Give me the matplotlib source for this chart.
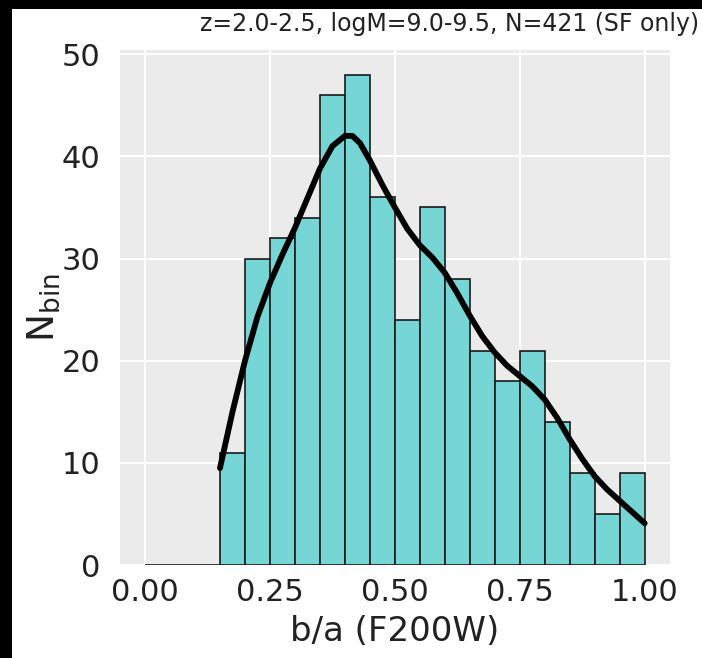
import matplotlib

matplotlib.use("Agg")
import matplotlib.pyplot as plt
from matplotlib.patches import Rectangle

# histogram of b/a, bin width 0.05 from 0 to 1
bin_left = [0.00, 0.05, 0.10, 0.15, 0.20, 0.25, 0.30, 0.35, 0.40, 0.45,
            0.50, 0.55, 0.60, 0.65, 0.70, 0.75, 0.80, 0.85, 0.90, 0.95]
counts = [0, 0, 0, 11, 30, 32, 34, 46, 48, 36,
          24, 35, 28, 21, 18, 21, 14, 9, 5, 9]
bin_width = 0.05

# KDE curve
kde_x = [0.15, 0.175, 0.20, 0.225, 0.25, 0.275, 0.30, 0.325, 0.35, 0.375,
         0.40, 0.415, 0.43, 0.45, 0.475, 0.50, 0.525, 0.55, 0.575, 0.60,
         0.625, 0.65, 0.675, 0.70, 0.725, 0.75, 0.775, 0.80, 0.825, 0.85,
         0.875, 0.90, 0.925, 0.95, 0.975, 1.00]
kde_y = [9.5, 15.0, 20.0, 24.3, 27.6, 30.4, 33.0, 35.9, 38.8, 41.0,
         42.0, 42.0, 41.3, 39.6, 37.2, 35.0, 32.9, 31.3, 30.1, 28.6,
         26.6, 24.4, 22.4, 20.8, 19.5, 18.5, 17.5, 16.2, 14.4, 12.3,
         10.4, 8.7, 7.4, 6.3, 5.2, 4.1]

x_ticks = [0.00, 0.25, 0.50, 0.75, 1.00]
y_ticks = [0, 10, 20, 30, 40, 50]
title = "z=2.0-2.5, logM=9.0-9.5, N=421 (SF only)"

fig = plt.figure(figsize=(7.02, 6.58), dpi=100, facecolor="white")
ax = fig.add_axes([0.171, 0.141, 0.783, 0.783])
ax.set_facecolor("#EBEBEB")
ax.set_axisbelow(True)
ax.grid(True, color="white", linewidth=1.5)
for s in ax.spines.values():
	s.set_visible(False)

ax.bar(bin_left, counts, width=bin_width, align="edge",
       color="#76D5D5", edgecolor="#1a1a1a", linewidth=1.2)
ax.plot(kde_x, kde_y, color="black", linewidth=4.2,
        solid_capstyle="round", solid_joinstyle="round")

ax.set_xlim(-0.05, 1.05)
ax.set_ylim(0, 50.4)
ax.set_xticks(x_ticks)
ax.set_xticklabels([f"{t:.2f}" for t in x_ticks])
ax.set_yticks(y_ticks)
ax.tick_params(axis="both", length=0, labelsize=22, labelcolor="#222222")
ax.tick_params(axis="x", pad=9)
ax.tick_params(axis="y", pad=14)
ax.set_xlabel("b/a (F200W)", fontsize=24.5, color="#222222", labelpad=6)
ax.set_ylabel(r"$\mathregular{N_{bin}}$", fontsize=27, color="#222222", labelpad=0)

fig.text(450 / 702, 1 - 24 / 658, title, ha="center", va="center",
         fontsize=17, color="#222222")

# dark strips along the top and left edges of the picture
fig.patches.append(Rectangle((0, 0), 12 / 702, 1, transform=fig.transFigure,
                             facecolor="black", edgecolor="none"))
fig.patches.append(Rectangle((0, 1 - 9 / 658), 1, 9 / 658, transform=fig.transFigure,
                             facecolor="black", edgecolor="none"))

fig.savefig("out.png", dpi=100, facecolor=fig.get_facecolor())
